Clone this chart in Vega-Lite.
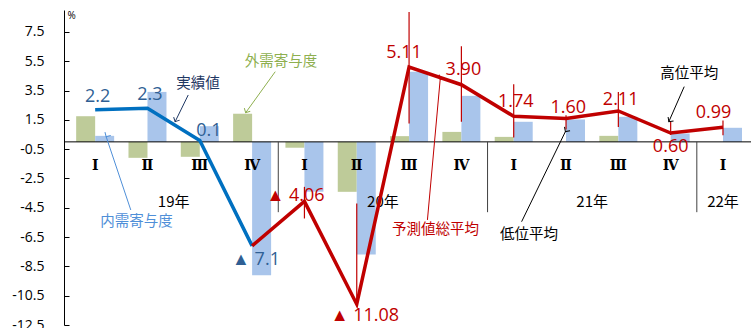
{
  "$schema": "https://vega.github.io/schema/vega-lite/v6.json",
  "width": 687,
  "height": 315,
  "autosize": {"type": "none"},
  "padding": {"left": 64, "top": 10, "right": 0, "bottom": 3},
  "background": "white",
  "config": {
    "view": {"stroke": null},
    "font": "Open Sans"
  },
  "datasets": {
    "bars": [
      {"t": 1, "q": "Ⅰ", "ext": 1.75, "dom": 0.41},
      {"t": 2, "q": "Ⅱ", "ext": -1.09, "dom": 3.41},
      {"t": 3, "q": "Ⅲ", "ext": -1.02, "dom": 1.07},
      {"t": 4, "q": "Ⅳ", "ext": 1.92, "dom": -9.1},
      {"t": 5, "q": "Ⅰ", "ext": -0.4, "dom": -3.4},
      {"t": 6, "q": "Ⅱ", "ext": -3.41, "dom": -7.69},
      {"t": 7, "q": "Ⅲ", "ext": 0.39, "dom": 4.78},
      {"t": 8, "q": "Ⅳ", "ext": 0.68, "dom": 3.14},
      {"t": 9, "q": "Ⅰ", "ext": 0.34, "dom": 1.37},
      {"t": 10, "q": "Ⅱ", "ext": 0.0, "dom": 1.53},
      {"t": 11, "q": "Ⅲ", "ext": 0.41, "dom": 1.71},
      {"t": 12, "q": "Ⅳ", "ext": 0.0, "dom": 0.57},
      {"t": 13, "q": "Ⅰ", "ext": 0.0, "dom": 0.96}
    ],
    "actual": [
      {"t": 1, "v": 2.2},
      {"t": 2, "v": 2.3},
      {"t": 3, "v": 0.1},
      {"t": 4, "v": -7.1}
    ],
    "forecast": [
      {"t": 4, "v": -7.1},
      {"t": 5, "v": -4.06},
      {"t": 6, "v": -11.08},
      {"t": 7, "v": 5.11},
      {"t": 8, "v": 3.9},
      {"t": 9, "v": 1.74},
      {"t": 10, "v": 1.6},
      {"t": 11, "v": 2.11},
      {"t": 12, "v": 0.6},
      {"t": 13, "v": 0.99}
    ],
    "range": [
      {"t": 5, "hi": -3.07, "lo": -5.23},
      {"t": 6, "hi": -4.2, "lo": -11.1},
      {"t": 7, "hi": 8.87, "lo": 1.26},
      {"t": 8, "hi": 6.53, "lo": 1.37},
      {"t": 9, "hi": 3.94, "lo": 0.3},
      {"t": 10, "hi": 1.82, "lo": 0.85},
      {"t": 11, "hi": 3.41, "lo": 1.02},
      {"t": 12, "hi": 1.37, "lo": 0.46},
      {"t": 13, "hi": 1.45, "lo": 0.45}
    ],
    "years": [
      {"t": 2.5, "label": "19年"},
      {"t": 6.5, "label": "20年"},
      {"t": 10.5, "label": "21年"},
      {"t": 13, "label": "22年"}
    ],
    "separators": [{"t": 4.5}, {"t": 8.5}, {"t": 12.5}],
    "notes": [
      {"label": "実績値", "t": 2.967, "v": 3.95, "t1": 2.779, "v1": 3.2, "t2": 2.529, "v2": 1.38},
      {"label": "外需寄与度", "t": 4.55, "v": 5.42, "t1": 4.442, "v1": 4.79, "t2": 3.877, "v2": 1.99},
      {"label": "内需寄与度", "t": 1.79, "v": -5.5, "t1": 1.681, "v1": -4.65, "t2": 1.21, "v2": 0.355},
      {"label": "予測値総平均", "t": 7.503, "v": -6.01, "t1": 7.351, "v1": -5.33, "t2": 7.595, "v2": 4.27},
      {"label": "低位平均", "t": 9.293, "v": -6.34, "t1": 9.151, "v1": -5.45, "t2": 9.988, "v2": 0.7},
      {"label": "高位平均", "t": 12.353, "v": 4.62, "t1": 12.259, "v1": 3.77, "t2": 11.965, "v2": 1.38}
    ]
  },
  "layer": [
    {
      "data": {"name": "bars"},
      "mark": {"type": "bar", "width": 19, "xOffset": -9.5, "color": "#BECB99"},
      "encoding": {
        "x": {"field": "t", "type": "quantitative", "scale": {"domain": [0.5, 13.44], "nice": false, "zero": false}, "axis": null},
        "y": {"field": "ext", "type": "quantitative", "scale": {"domain": [-12.5, 9], "nice": false, "zero": false},
          "axis": {
            "title": "%",
            "values": [7.5, 5.5, 3.5, 1.5, -0.5, -2.5, -4.5, -6.5, -8.5, -10.5, -12.5],
            "tickCount": 30,
            "labelExpr": "replace(format(datum.value, '.1f'), '\u2212', '-')",
            "labelOverlap": false,
            "grid": false, "domainColor": "#000", "tickColor": "#000", "tickSize": -5,
            "labelPadding": 25, "labelFontSize": 14, "labelFont": "Open Sans", "labelColor": "#000",
            "titleAngle": 0, "titleX": 3, "titleY": 5, "titleAlign": "left", "titleBaseline": "middle",
            "titleFontSize": 10, "titleFontWeight": "normal", "titleColor": "#000", "titleFont": "Open Sans"
          }},
        "y2": {"datum": 0}
      }
    },
    {
      "data": {"name": "bars"},
      "mark": {"type": "bar", "width": 19, "xOffset": 9.5, "color": "#A9C5EB"},
      "encoding": {
        "x": {"field": "t", "type": "quantitative", "scale": {"domain": [0.5, 13.44], "nice": false, "zero": false}, "axis": null},
        "y": {"field": "dom", "type": "quantitative", "scale": {"domain": [-12.5, 9], "nice": false, "zero": false}},
        "y2": {"datum": 0}
      }
    },
    {
      "data": {"values": [{}]},
      "mark": {"type": "rule", "color": "#000", "strokeWidth": 1},
      "encoding": {
        "y": {"datum": 0, "type": "quantitative", "scale": {"domain": [-12.5, 9], "nice": false, "zero": false}}
      }
    },
    {
      "data": {"name": "separators"},
      "mark": {"type": "rule", "color": "#404040", "strokeWidth": 1},
      "encoding": {
        "x": {"field": "t", "type": "quantitative", "scale": {"domain": [0.5, 13.44], "nice": false, "zero": false}, "axis": null},
        "y": {"datum": 0, "type": "quantitative", "scale": {"domain": [-12.5, 9], "nice": false, "zero": false}},
        "y2": {"datum": -4.8}
      }
    },
    {
      "data": {"name": "bars"},
      "mark": {"type": "text", "font": "DejaVu Serif", "fontSize": 14, "fontWeight": "bold", "color": "#000", "baseline": "middle"},
      "encoding": {
        "x": {"field": "t", "type": "quantitative", "scale": {"domain": [0.5, 13.44], "nice": false, "zero": false}, "axis": null},
        "y": {"datum": -1.65, "type": "quantitative", "scale": {"domain": [-12.5, 9], "nice": false, "zero": false}},
        "text": {"field": "q"}
      }
    },
    {
      "data": {"name": "years"},
      "mark": {"type": "text", "font": "Noto Sans CJK JP", "fontSize": 15, "color": "#000", "baseline": "middle"},
      "encoding": {
        "x": {"field": "t", "type": "quantitative", "scale": {"domain": [0.5, 13.44], "nice": false, "zero": false}, "axis": null},
        "y": {"datum": -4.08, "type": "quantitative", "scale": {"domain": [-12.5, 9], "nice": false, "zero": false}},
        "text": {"field": "label"}
      }
    },
    {
      "data": {"name": "actual"},
      "mark": {"type": "line", "color": "#0070C0", "strokeWidth": 3.5},
      "encoding": {
        "x": {"field": "t", "type": "quantitative", "scale": {"domain": [0.5, 13.44], "nice": false, "zero": false}, "axis": null},
        "y": {"field": "v", "type": "quantitative", "scale": {"domain": [-12.5, 9], "nice": false, "zero": false}}
      }
    },
    {
      "data": {"name": "forecast"},
      "mark": {"type": "line", "color": "#C00000", "strokeWidth": 3.5},
      "encoding": {
        "x": {"field": "t", "type": "quantitative", "scale": {"domain": [0.5, 13.44], "nice": false, "zero": false}, "axis": null},
        "y": {"field": "v", "type": "quantitative", "scale": {"domain": [-12.5, 9], "nice": false, "zero": false}}
      }
    },
    {
      "data": {"name": "range"},
      "mark": {"type": "rule", "color": "#C00000", "strokeWidth": 1.2},
      "encoding": {
        "x": {"field": "t", "type": "quantitative", "scale": {"domain": [0.5, 13.44], "nice": false, "zero": false}, "axis": null},
        "y": {"field": "hi", "type": "quantitative", "scale": {"domain": [-12.5, 9], "nice": false, "zero": false}},
        "y2": {"field": "lo"}
      }
    },
    {
      "data": {"name": "actual"},
      "transform": [{"filter": "datum.t <= 2"}],
      "mark": {"type": "text", "fontSize": 18, "color": "#2F5F94", "baseline": "middle", "dx": 2.5, "dy": -13},
      "encoding": {
        "x": {"field": "t", "type": "quantitative", "scale": {"domain": [0.5, 13.44], "nice": false, "zero": false}, "axis": null},
        "y": {"field": "v", "type": "quantitative", "scale": {"domain": [-12.5, 9], "nice": false, "zero": false}},
        "text": {"field": "v", "format": ".1f"}
      }
    },
    {
      "data": {"name": "actual"},
      "transform": [{"filter": "datum.t == 3"}],
      "mark": {"type": "text", "fontSize": 18, "color": "#2F5F94", "baseline": "middle", "dx": 9, "dy": -9},
      "encoding": {
        "x": {"field": "t", "type": "quantitative", "scale": {"domain": [0.5, 13.44], "nice": false, "zero": false}, "axis": null},
        "y": {"field": "v", "type": "quantitative", "scale": {"domain": [-12.5, 9], "nice": false, "zero": false}},
        "text": {"field": "v", "format": ".1f"}
      }
    },
    {
      "data": {"name": "actual"},
      "transform": [{"filter": "datum.t == 4"}, {"calculate": "'▲ ' + format(abs(datum.v), '.1f')", "as": "lab"}],
      "mark": {"type": "text", "fontSize": 18, "color": "#2F5F94", "baseline": "middle", "align": "left", "dx": -20, "dy": 14},
      "encoding": {
        "x": {"field": "t", "type": "quantitative", "scale": {"domain": [0.5, 13.44], "nice": false, "zero": false}, "axis": null},
        "y": {"field": "v", "type": "quantitative", "scale": {"domain": [-12.5, 9], "nice": false, "zero": false}},
        "text": {"field": "lab"}
      }
    },
    {
      "data": {"name": "forecast"},
      "transform": [{"filter": "datum.t == 5"}, {"calculate": "'▲ ' + format(abs(datum.v), '.2f')", "as": "lab"}],
      "mark": {"type": "text", "fontSize": 18, "color": "#C00000", "baseline": "middle", "align": "left", "dx": -38, "dy": -5},
      "encoding": {
        "x": {"field": "t", "type": "quantitative", "scale": {"domain": [0.5, 13.44], "nice": false, "zero": false}, "axis": null},
        "y": {"field": "v", "type": "quantitative", "scale": {"domain": [-12.5, 9], "nice": false, "zero": false}},
        "text": {"field": "lab"}
      }
    },
    {
      "data": {"name": "forecast"},
      "transform": [{"filter": "datum.t == 6"}, {"calculate": "'▲ ' + format(abs(datum.v), '.2f')", "as": "lab"}],
      "mark": {"type": "text", "fontSize": 18, "color": "#C00000", "baseline": "middle", "align": "left", "dx": -26, "dy": 12},
      "encoding": {
        "x": {"field": "t", "type": "quantitative", "scale": {"domain": [0.5, 13.44], "nice": false, "zero": false}, "axis": null},
        "y": {"field": "v", "type": "quantitative", "scale": {"domain": [-12.5, 9], "nice": false, "zero": false}},
        "text": {"field": "lab"}
      }
    },
    {
      "data": {"name": "forecast"},
      "transform": [{"filter": "datum.t == 7"}],
      "mark": {"type": "text", "fontSize": 18, "color": "#C00000", "baseline": "middle", "dx": -5, "dy": -14},
      "encoding": {
        "x": {"field": "t", "type": "quantitative", "scale": {"domain": [0.5, 13.44], "nice": false, "zero": false}, "axis": null},
        "y": {"field": "v", "type": "quantitative", "scale": {"domain": [-12.5, 9], "nice": false, "zero": false}},
        "text": {"field": "v", "format": ".2f"}
      }
    },
    {
      "data": {"name": "forecast"},
      "transform": [{"filter": "datum.t == 8 || datum.t == 9"}],
      "mark": {"type": "text", "fontSize": 18, "color": "#C00000", "baseline": "middle", "dx": 2, "dy": -14.7},
      "encoding": {
        "x": {"field": "t", "type": "quantitative", "scale": {"domain": [0.5, 13.44], "nice": false, "zero": false}, "axis": null},
        "y": {"field": "v", "type": "quantitative", "scale": {"domain": [-12.5, 9], "nice": false, "zero": false}},
        "text": {"field": "v", "format": ".2f"}
      }
    },
    {
      "data": {"name": "forecast"},
      "transform": [{"filter": "datum.t == 10 || datum.t == 11"}],
      "mark": {"type": "text", "fontSize": 18, "color": "#C00000", "baseline": "middle", "dx": 2.3, "dy": -10.6},
      "encoding": {
        "x": {"field": "t", "type": "quantitative", "scale": {"domain": [0.5, 13.44], "nice": false, "zero": false}, "axis": null},
        "y": {"field": "v", "type": "quantitative", "scale": {"domain": [-12.5, 9], "nice": false, "zero": false}},
        "text": {"field": "v", "format": ".2f"}
      }
    },
    {
      "data": {"name": "forecast"},
      "transform": [{"filter": "datum.t == 12"}],
      "mark": {"type": "text", "fontSize": 18, "color": "#C00000", "baseline": "middle", "dx": 0, "dy": 13.6},
      "encoding": {
        "x": {"field": "t", "type": "quantitative", "scale": {"domain": [0.5, 13.44], "nice": false, "zero": false}, "axis": null},
        "y": {"field": "v", "type": "quantitative", "scale": {"domain": [-12.5, 9], "nice": false, "zero": false}},
        "text": {"field": "v", "format": ".2f"}
      }
    },
    {
      "data": {"name": "forecast"},
      "transform": [{"filter": "datum.t == 13"}],
      "mark": {"type": "text", "fontSize": 18, "color": "#C00000", "baseline": "middle", "dx": -9.4, "dy": -14},
      "encoding": {
        "x": {"field": "t", "type": "quantitative", "scale": {"domain": [0.5, 13.44], "nice": false, "zero": false}, "axis": null},
        "y": {"field": "v", "type": "quantitative", "scale": {"domain": [-12.5, 9], "nice": false, "zero": false}},
        "text": {"field": "v", "format": ".2f"}
      }
    },
    {
      "data": {"name": "notes"},
      "mark": {"type": "rule", "strokeWidth": 1},
      "encoding": {
        "x": {"field": "t1", "type": "quantitative", "scale": {"domain": [0.5, 13.44], "nice": false, "zero": false}, "axis": null},
        "y": {"field": "v1", "type": "quantitative", "scale": {"domain": [-12.5, 9], "nice": false, "zero": false}},
        "x2": {"field": "t2"},
        "y2": {"field": "v2"},
        "color": {"field": "label", "type": "nominal", "legend": null,
          "scale": {"domain": ["実績値", "外需寄与度", "内需寄与度", "予測値総平均", "低位平均", "高位平均"],
                    "range": ["#1F3864", "#8EAF4F", "#4F8FD8", "#C00000", "#000000", "#000000"]}}
      }
    },
    {
      "data": {"name": "notes"},
      "mark": {"type": "point", "shape": "M-1,1L0,0L1,1", "filled": false, "size": 45, "strokeWidth": 1, "opacity": 1},
      "encoding": {
        "x": {"field": "t2", "type": "quantitative", "scale": {"domain": [0.5, 13.44], "nice": false, "zero": false}, "axis": null},
        "y": {"field": "v2", "type": "quantitative", "scale": {"domain": [-12.5, 9], "nice": false, "zero": false}},
        "angle": {"field": "label", "type": "nominal", "legend": null,
          "scale": {"domain": ["実績値", "外需寄与度", "内需寄与度", "予測値総平均", "低位平均", "高位平均"],
                    "range": [206.5, 216.2, 341.2, 5.3, 26.2, 204]}},
        "color": {"field": "label", "type": "nominal", "legend": null,
          "scale": {"domain": ["実績値", "外需寄与度", "内需寄与度", "予測値総平均", "低位平均", "高位平均"],
                    "range": ["#1F3864", "#8EAF4F", "#4F8FD8", "#C00000", "#000000", "#000000"]}}
      }
    },
    {
      "data": {"name": "notes"},
      "mark": {"type": "text", "font": "Noto Sans CJK JP", "fontSize": 14.5, "baseline": "middle"},
      "encoding": {
        "x": {"field": "t", "type": "quantitative", "scale": {"domain": [0.5, 13.44], "nice": false, "zero": false}, "axis": null},
        "y": {"field": "v", "type": "quantitative", "scale": {"domain": [-12.5, 9], "nice": false, "zero": false}},
        "text": {"field": "label"},
        "color": {"field": "label", "type": "nominal", "legend": null,
          "scale": {"domain": ["実績値", "外需寄与度", "内需寄与度", "予測値総平均", "低位平均", "高位平均"],
                    "range": ["#1F3864", "#8EAF4F", "#4F8FD8", "#C00000", "#000000", "#000000"]}}
      }
    }
  ]
}
